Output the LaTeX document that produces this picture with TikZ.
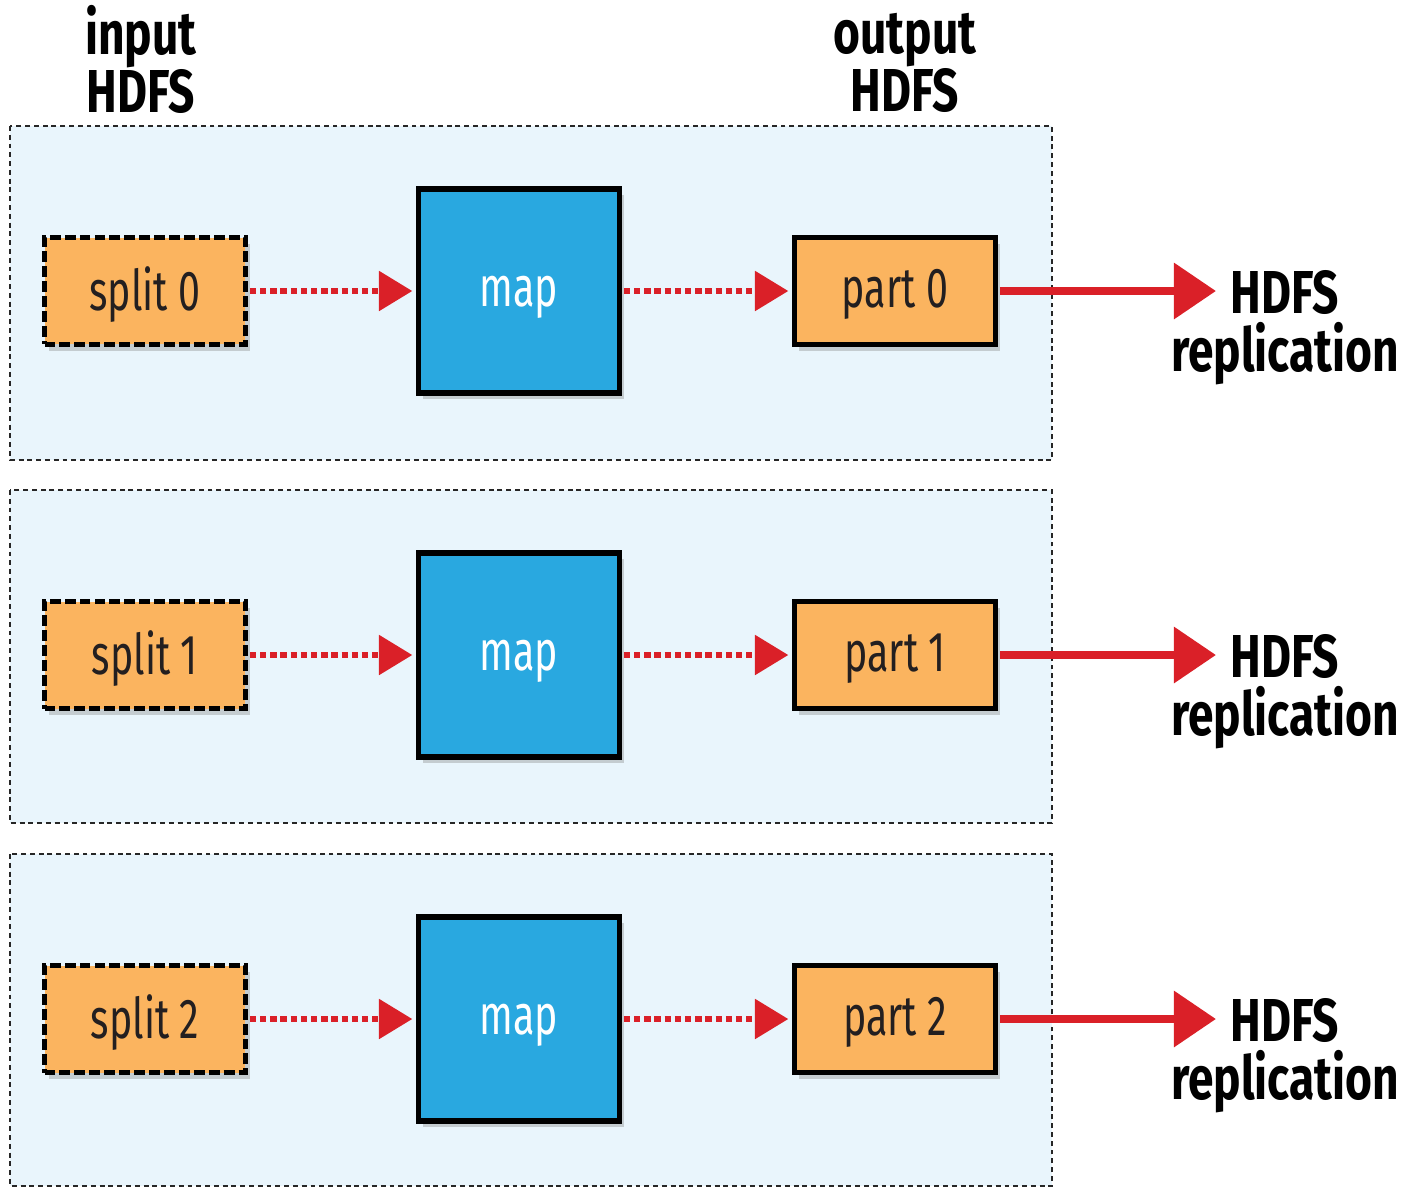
\documentclass[tikz,border=0pt]{standalone}
\usepackage{fontspec}
\setmainfont{Fira Sans}[FakeStretch=0.7,BoldFeatures={FakeStretch=0.76}]
\usetikzlibrary{arrows.meta,shadows}

\definecolor{panelblue}{RGB}{233,245,252}
\definecolor{splitorange}{RGB}{251,180,95}
\definecolor{mapblue}{RGB}{41,168,224}
\definecolor{flowred}{RGB}{218,32,40}
\definecolor{inktext}{RGB}{35,31,32}

\begin{document}
\begin{tikzpicture}[x=0.02cm,y=-0.02cm,
    panel/.style={draw=black!85,fill=panelblue,line width=1.1pt,dash pattern=on 2.8pt off 2.2pt},
    box/.style={fill=splitorange,line width=3pt,minimum width=4.02cm,minimum height=2.14cm,
        inner sep=0pt,text=inktext,text depth=3pt,font=\fontsize{32}{36}\selectfont,
        drop shadow={shadow xshift=2.5pt,shadow yshift=-3.5pt,opacity=.35}},
    splitbox/.style={box,draw=black,dash pattern=on 6.2pt off 2.3pt},
    partbox/.style={box,draw=black},
    mapbox/.style={draw=black,fill=mapblue,line width=3pt,minimum width=4.02cm,minimum height=4.08cm,
        inner sep=0pt,text=white,text depth=0pt,font=\fontsize{32}{36}\selectfont,
        drop shadow={shadow xshift=2.5pt,shadow yshift=-3.5pt,opacity=.35}},
    feed/.style={draw=flowred,line width=3.6pt,dash pattern=on 3.6pt off 2.2pt,
        -{Triangle[length=19pt,width=22pt]},shorten <=1pt,shorten >=2pt},
    replicate/.style={draw=flowred,line width=5pt,-{Triangle[length=24pt,width=31pt]},shorten <=1pt},
    label/.style={anchor=north,inner sep=0pt,align=center,
        font=\fontsize{34.5}{33}\selectfont\bfseries}
]
\useasboundingbox (0,0) rectangle (1413,1187);

% panels
\path[panel] (10,126) rectangle (1052,460);
\path[panel] (10,490) rectangle (1052,823);
\path[panel] (10,854) rectangle (1052,1186);

% headings
\node[label] (input) at (141,5) {input\\HDFS};
\node[label] (output) at (905,13) {output\\HDFS};

% row 0
\node[splitbox] (split0) at (145,291) {split 0};
\node[mapbox]   (map0)   at (519,291) {map};
\node[partbox]  (part0)  at (895,291) {part 0};
\coordinate (tip0) at (1216,291);
\node[label] (rep0) at (1285,270) {HDFS\\replication};
\draw[feed] (split0) -- (map0);
\draw[feed] (map0) -- (part0);
\draw[replicate] (part0) -- (tip0);

% row 1
\node[splitbox] (split1) at (145,655) {split 1};
\node[mapbox]   (map1)   at (519,655) {map};
\node[partbox]  (part1)  at (895,655) {part 1};
\coordinate (tip1) at (1216,655);
\node[label] (rep1) at (1285,634) {HDFS\\replication};
\draw[feed] (split1) -- (map1);
\draw[feed] (map1) -- (part1);
\draw[replicate] (part1) -- (tip1);

% row 2
\node[splitbox] (split2) at (145,1019) {split 2};
\node[mapbox]   (map2)   at (519,1019) {map};
\node[partbox]  (part2)  at (895,1019) {part 2};
\coordinate (tip2) at (1216,1019);
\node[label] (rep2) at (1285,998) {HDFS\\replication};
\draw[feed] (split2) -- (map2);
\draw[feed] (map2) -- (part2);
\draw[replicate] (part2) -- (tip2);
\end{tikzpicture}
\end{document}
